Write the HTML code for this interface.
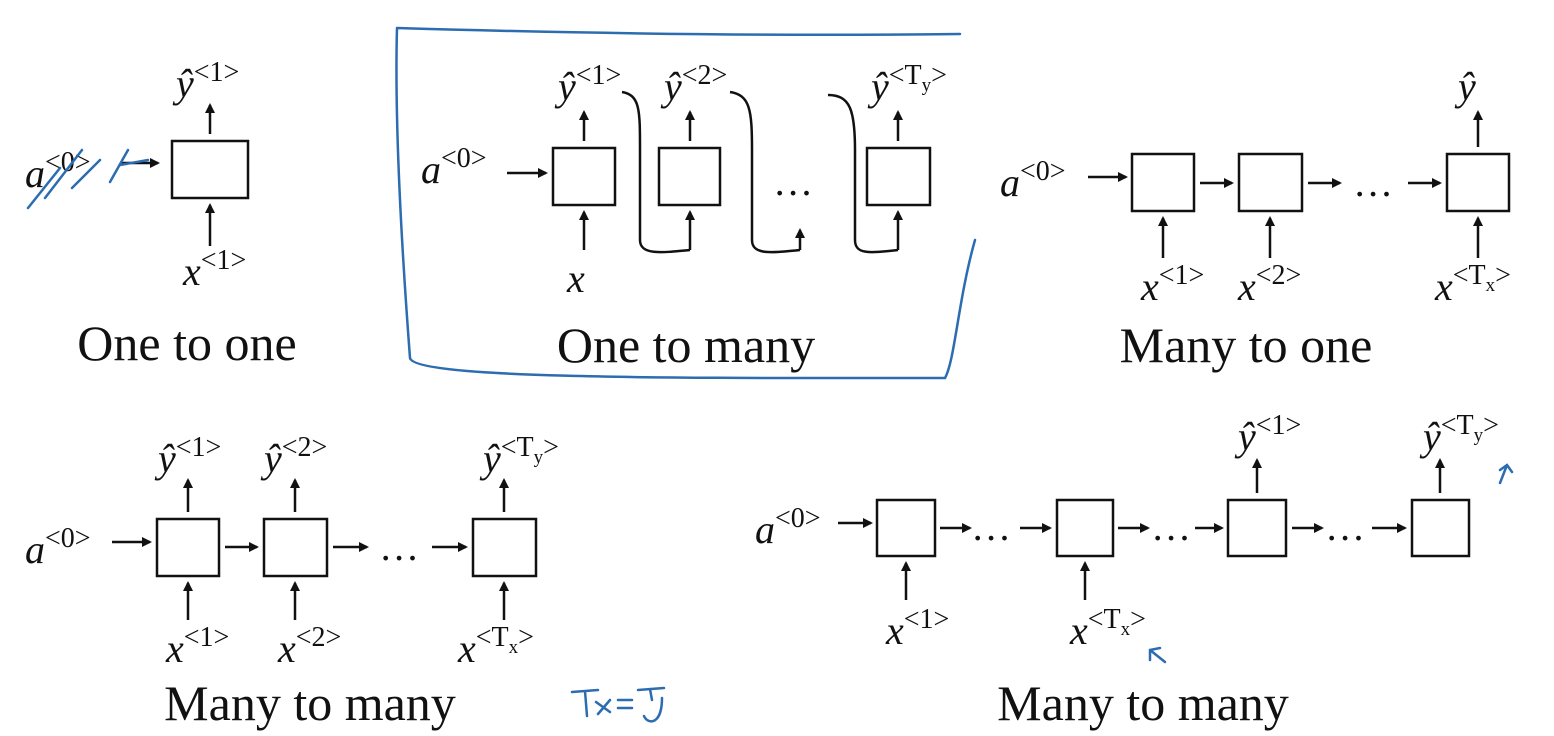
<!DOCTYPE html>
<html><head><meta charset="utf-8"><style>
html,body{margin:0;padding:0;background:#fff}
svg{display:block}
.lab{font-family:"Liberation Serif",serif;font-style:italic;font-size:40px;fill:#111}
.sup{font-family:"Liberation Serif",serif;font-style:normal;font-size:28px;fill:#111}
.title{font-family:"Liberation Serif",serif;font-size:50px;fill:#111}
.box{fill:#fff;stroke:#111;stroke-width:2.5}
.ln{stroke:#111;stroke-width:2.5;fill:none}
.blue{stroke:#2c6cb0;stroke-width:2.5;fill:none;stroke-linecap:round}
</style></head><body>
<svg width="1554" height="736" viewBox="0 0 1554 736">
<defs><marker id="ah" markerWidth="10" markerHeight="10" refX="8" refY="5" orient="auto" markerUnits="userSpaceOnUse"><path d="M0,0 L10,5 L0,10 z" fill="#111"/></marker></defs>

<g>
<rect class="box" x="172" y="141" width="76" height="57"/>
<line class="ln" x1="210" y1="134" x2="210" y2="105" marker-end="url(#ah)"/>
<text class="lab" x="176" y="97">ŷ<tspan class="sup" dy="-16">&lt;1&gt;</tspan></text>
<text class="lab" x="25" y="187">a<tspan class="sup" dy="-16">&lt;0&gt;</tspan></text>
<line class="ln" x1="120" y1="163" x2="158" y2="163" marker-end="url(#ah)"/>
<line class="ln" x1="210" y1="246" x2="210" y2="205" marker-end="url(#ah)"/>
<text class="lab" x="183" y="285">x<tspan class="sup" dy="-16">&lt;1&gt;</tspan></text>
<path class="blue" d="M28,208 L60,168 M45,198 L82,150 M72,188 L100,160 M110,182 L128,150 M120,165 L148,160"/>
<text class="title" x="187" y="360" text-anchor="middle">One to one</text>
</g>

<g>
<path class="blue" d="M397,28 C395,100 398,200 410,358 C415,380 700,378 945,378 C955,360 958,300 975,240 M397,28 C600,34 800,36 960,34"/>
<text class="lab" x="421" y="183">a<tspan class="sup" dy="-16">&lt;0&gt;</tspan></text>
<line class="ln" x1="507" y1="173" x2="546" y2="173" marker-end="url(#ah)"/>
<rect class="box" x="553" y="148" width="62" height="57"/>
<rect class="box" x="659" y="148" width="61" height="57"/>
<rect class="box" x="867" y="148" width="63" height="57"/>
<text class="lab" x="558" y="100">ŷ<tspan class="sup" dy="-16">&lt;1&gt;</tspan></text>
<text class="lab" x="664" y="100">ŷ<tspan class="sup" dy="-16">&lt;2&gt;</tspan></text>
<text class="lab" x="871" y="100">ŷ<tspan class="sup" dy="-16">&lt;T</tspan><tspan class="sup" style="font-size:19px" dy="7">y</tspan><tspan class="sup" dy="-7">&gt;</tspan></text>
<line class="ln" x1="584" y1="141" x2="584" y2="112" marker-end="url(#ah)"/>
<line class="ln" x1="690" y1="141" x2="690" y2="112" marker-end="url(#ah)"/>
<line class="ln" x1="898" y1="141" x2="898" y2="112" marker-end="url(#ah)"/>
<line class="ln" x1="584" y1="250" x2="584" y2="212" marker-end="url(#ah)"/>
<line class="ln" x1="690" y1="250" x2="690" y2="212" marker-end="url(#ah)"/>
<line class="ln" x1="800" y1="250" x2="800" y2="230" marker-end="url(#ah)"/>
<line class="ln" x1="898" y1="250" x2="898" y2="212" marker-end="url(#ah)"/>
<path class="ln" d="M622,92 C640,95 640,110 640,150 L640,240 C640,255 660,253 690,250"/>
<path class="ln" d="M730,92 C750,95 752,110 752,150 L752,240 C752,255 770,253 800,250"/>
<path class="ln" d="M828,95 C850,95 855,110 855,150 L855,240 C855,255 870,253 898,250"/>
<text class="lab" x="776" y="195">…</text>
<text class="lab" x="567" y="292">x</text>
<text class="title" x="686" y="362" text-anchor="middle">One to many</text>
</g>

<g>
<text class="lab" x="1000" y="196">a<tspan class="sup" dy="-16">&lt;0&gt;</tspan></text>
<line class="ln" x1="1088" y1="177" x2="1126" y2="177" marker-end="url(#ah)"/>
<rect class="box" x="1132" y="154" width="62" height="57"/>
<rect class="box" x="1239" y="154" width="63" height="57"/>
<rect class="box" x="1447" y="154" width="62" height="57"/>
<line class="ln" x1="1200" y1="183" x2="1232" y2="183" marker-end="url(#ah)"/>
<line class="ln" x1="1308" y1="183" x2="1340" y2="183" marker-end="url(#ah)"/>
<text class="lab" x="1356" y="196">…</text>
<line class="ln" x1="1408" y1="183" x2="1440" y2="183" marker-end="url(#ah)"/>
<line class="ln" x1="1478" y1="147" x2="1478" y2="112" marker-end="url(#ah)"/>
<text class="lab" x="1458" y="100">ŷ</text>
<line class="ln" x1="1163" y1="258" x2="1163" y2="218" marker-end="url(#ah)"/>
<line class="ln" x1="1270" y1="258" x2="1270" y2="218" marker-end="url(#ah)"/>
<line class="ln" x1="1478" y1="258" x2="1478" y2="218" marker-end="url(#ah)"/>
<text class="lab" x="1141" y="300">x<tspan class="sup" dy="-16">&lt;1&gt;</tspan></text>
<text class="lab" x="1238" y="300">x<tspan class="sup" dy="-16">&lt;2&gt;</tspan></text>
<text class="lab" x="1435" y="300">x<tspan class="sup" dy="-16">&lt;T</tspan><tspan class="sup" style="font-size:19px" dy="7">x</tspan><tspan class="sup" dy="-7">&gt;</tspan></text>
<text class="title" x="1246" y="362" text-anchor="middle">Many to one</text>
</g>

<g>
<text class="lab" x="25" y="563">a<tspan class="sup" dy="-16">&lt;0&gt;</tspan></text>
<line class="ln" x1="112" y1="542" x2="150" y2="542" marker-end="url(#ah)"/>
<rect class="box" x="157" y="519" width="62" height="57"/>
<rect class="box" x="264" y="519" width="63" height="57"/>
<rect class="box" x="473" y="519" width="63" height="57"/>
<line class="ln" x1="225" y1="547" x2="257" y2="547" marker-end="url(#ah)"/>
<line class="ln" x1="333" y1="547" x2="367" y2="547" marker-end="url(#ah)"/>
<text class="lab" x="382" y="560">…</text>
<line class="ln" x1="432" y1="547" x2="466" y2="547" marker-end="url(#ah)"/>
<line class="ln" x1="188" y1="512" x2="188" y2="480" marker-end="url(#ah)"/>
<line class="ln" x1="295" y1="512" x2="295" y2="480" marker-end="url(#ah)"/>
<line class="ln" x1="504" y1="512" x2="504" y2="480" marker-end="url(#ah)"/>
<text class="lab" x="158" y="472">ŷ<tspan class="sup" dy="-16">&lt;1&gt;</tspan></text>
<text class="lab" x="264" y="472">ŷ<tspan class="sup" dy="-16">&lt;2&gt;</tspan></text>
<text class="lab" x="483" y="472">ŷ<tspan class="sup" dy="-16">&lt;T</tspan><tspan class="sup" style="font-size:19px" dy="7">y</tspan><tspan class="sup" dy="-7">&gt;</tspan></text>
<line class="ln" x1="188" y1="620" x2="188" y2="583" marker-end="url(#ah)"/>
<line class="ln" x1="295" y1="620" x2="295" y2="583" marker-end="url(#ah)"/>
<line class="ln" x1="504" y1="620" x2="504" y2="583" marker-end="url(#ah)"/>
<text class="lab" x="166" y="662">x<tspan class="sup" dy="-16">&lt;1&gt;</tspan></text>
<text class="lab" x="278" y="662">x<tspan class="sup" dy="-16">&lt;2&gt;</tspan></text>
<text class="lab" x="458" y="662">x<tspan class="sup" dy="-16">&lt;T</tspan><tspan class="sup" style="font-size:19px" dy="7">x</tspan><tspan class="sup" dy="-7">&gt;</tspan></text>
<text class="title" x="310" y="720" text-anchor="middle">Many to many</text>
<path class="blue" d="M572,692 L598,690 M585,691 L587,716 M596,702 L610,712 M610,700 L598,714 M618,700 L632,700 M618,708 L632,708 M638,690 L664,688 M650,689 L652,700 M662,698 C662,725 648,725 644,716"/>
</g>

<g>
<text class="lab" x="755" y="543">a<tspan class="sup" dy="-16">&lt;0&gt;</tspan></text>
<line class="ln" x1="838" y1="523" x2="871" y2="523" marker-end="url(#ah)"/>
<rect class="box" x="877" y="500" width="58" height="56"/>
<rect class="box" x="1057" y="500" width="56" height="56"/>
<rect class="box" x="1228" y="500" width="58" height="56"/>
<rect class="box" x="1412" y="500" width="57" height="56"/>
<line class="ln" x1="940" y1="528" x2="970" y2="528" marker-end="url(#ah)"/>
<text class="lab" x="974" y="540">…</text>
<line class="ln" x1="1020" y1="528" x2="1050" y2="528" marker-end="url(#ah)"/>
<line class="ln" x1="1118" y1="528" x2="1148" y2="528" marker-end="url(#ah)"/>
<text class="lab" x="1154" y="540">…</text>
<line class="ln" x1="1195" y1="528" x2="1222" y2="528" marker-end="url(#ah)"/>
<line class="ln" x1="1292" y1="528" x2="1322" y2="528" marker-end="url(#ah)"/>
<text class="lab" x="1328" y="540">…</text>
<line class="ln" x1="1372" y1="528" x2="1405" y2="528" marker-end="url(#ah)"/>
<line class="ln" x1="1257" y1="493" x2="1257" y2="460" marker-end="url(#ah)"/>
<line class="ln" x1="1440" y1="493" x2="1440" y2="460" marker-end="url(#ah)"/>
<text class="lab" x="1238" y="450">ŷ<tspan class="sup" dy="-16">&lt;1&gt;</tspan></text>
<text class="lab" x="1423" y="450">ŷ<tspan class="sup" dy="-16">&lt;T</tspan><tspan class="sup" style="font-size:19px" dy="7">y</tspan><tspan class="sup" dy="-7">&gt;</tspan></text>
<line class="ln" x1="906" y1="600" x2="906" y2="563" marker-end="url(#ah)"/>
<line class="ln" x1="1085" y1="600" x2="1085" y2="563" marker-end="url(#ah)"/>
<text class="lab" x="886" y="644">x<tspan class="sup" dy="-16">&lt;1&gt;</tspan></text>
<text class="lab" x="1070" y="644">x<tspan class="sup" dy="-16">&lt;T</tspan><tspan class="sup" style="font-size:19px" dy="7">x</tspan><tspan class="sup" dy="-7">&gt;</tspan></text>
<path class="blue" d="M1500,483 L1507,465 M1500,470 L1507,465 L1512,472"/>
<path class="blue" d="M1165,662 L1150,650 M1150,650 L1150,660 M1150,650 L1160,648"/>
<text class="title" x="1143" y="720" text-anchor="middle">Many to many</text>
</g>
</svg>
</body></html>
